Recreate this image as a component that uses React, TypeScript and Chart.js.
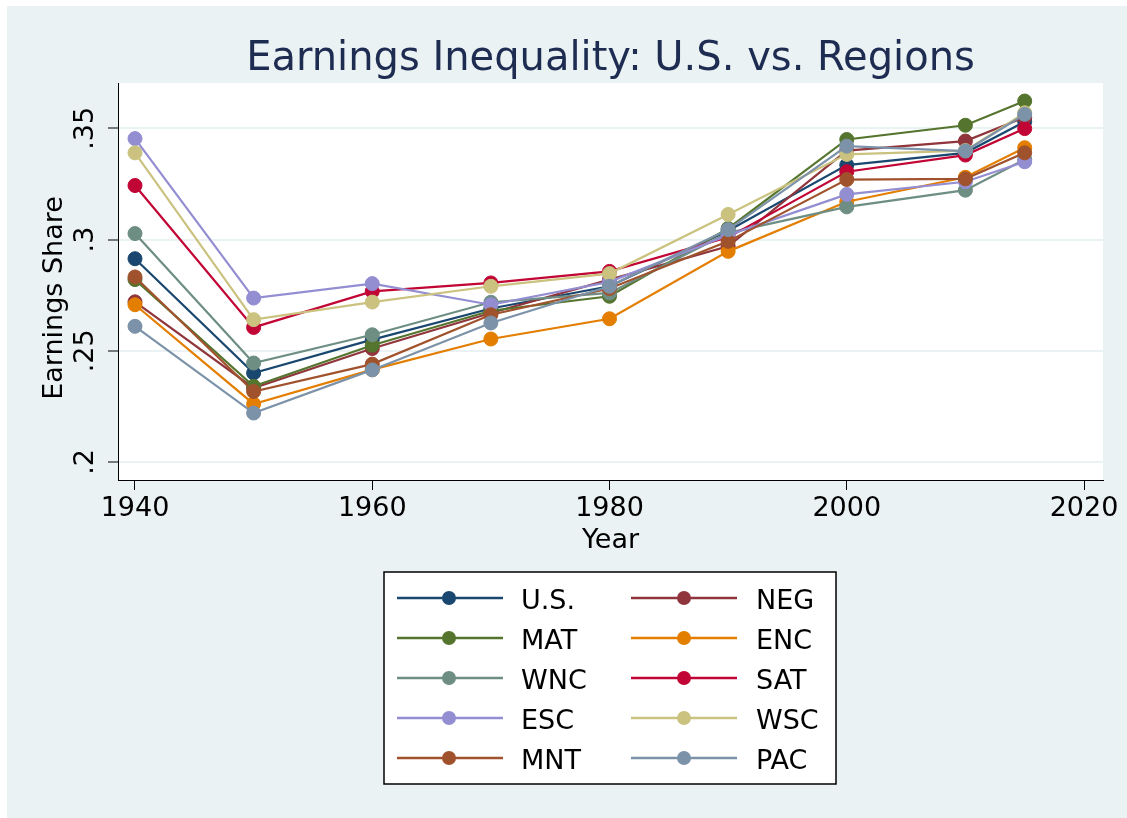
import React, { useEffect, useRef } from 'react';
import { Chart, registerables } from 'chart.js';

Chart.register(...registerables);

const FONT = '"DejaVu Sans", sans-serif';

const years = [1940, 1950, 1960, 1970, 1980, 1990, 2000, 2010, 2015];

const seriesNames = ['U.S.', 'NEG', 'MAT', 'ENC', 'WNC', 'SAT', 'ESC', 'WSC', 'MNT', 'PAC'];

const usValues = [0.2914, 0.240, 0.255, 0.269, 0.279, 0.304, 0.3335, 0.339, 0.353];
const negValues = [0.272, 0.2333, 0.251, 0.267, 0.282, 0.297, 0.340, 0.3443, 0.355];
const matValues = [0.282, 0.234, 0.2525, 0.268, 0.2745, 0.305, 0.345, 0.3514, 0.3623];
const encValues = [0.2707, 0.2261, 0.2415, 0.2553, 0.2644, 0.2947, 0.317, 0.328, 0.3413];
const wncValues = [0.3027, 0.2445, 0.2572, 0.2718, 0.276, 0.303, 0.3147, 0.3222, 0.336];
const satValues = [0.3243, 0.2605, 0.2767, 0.2805, 0.2857, 0.301, 0.3305, 0.338, 0.3499];
const escValues = [0.3454, 0.2737, 0.2802, 0.2707, 0.281, 0.302, 0.3203, 0.326, 0.335];
const wscValues = [0.339, 0.264, 0.2719, 0.279, 0.2847, 0.3113, 0.3383, 0.340, 0.357];
const mntValues = [0.2832, 0.2317, 0.244, 0.2662, 0.278, 0.2992, 0.327, 0.3273, 0.339];
const pacValues = [0.261, 0.222, 0.2414, 0.2625, 0.279, 0.3045, 0.342, 0.3398, 0.3563];

const seriesValues = [
  usValues, negValues, matValues, encValues, wncValues,
  satValues, escValues, wscValues, mntValues, pacValues,
];

const seriesColors = [
  '#1a476f', '#90353b', '#55752f', '#e37e00', '#6e8e84',
  '#c10534', '#938dd2', '#cac27e', '#a0522d', '#7b92a8',
];

const yTickValues = [0.2, 0.25, 0.3, 0.35];
const yTickLabels = ['.2', '.25', '.3', '.35'];
const xTickValues = [1940, 1960, 1980, 2000, 2020];

const titleText = 'Earnings Inequality: U.S. vs. Regions';
const yTitleText = 'Earnings Share';
const xTitleText = 'Year';

const BG = '#eaf2f3';

const decorPlugin = {
  id: 'decor',
  beforeDraw(chart: any) {
    const ctx = chart.ctx as CanvasRenderingContext2D;
    const a = chart.chartArea;
    ctx.save();
    ctx.fillStyle = '#ffffff';
    ctx.fillRect(a.left, a.top, a.right - a.left, a.bottom - a.top);
    ctx.restore();
  },
  afterDraw(chart: any) {
    const ctx = chart.ctx as CanvasRenderingContext2D;
    const yScale = chart.scales.y;
    const a = chart.chartArea;
    ctx.save();
    // title, centred on the plot region
    ctx.fillStyle = '#1e2c52';
    ctx.font = `40px ${FONT}`;
    ctx.textAlign = 'center';
    ctx.textBaseline = 'alphabetic';
    ctx.fillText(titleText, (a.left + a.right) / 2, 64);

    ctx.fillStyle = '#000';
    ctx.font = `27px ${FONT}`;
    yTickValues.forEach((v, i) => {
      const py = yScale.getPixelForValue(v);
      ctx.save();
      ctx.translate(86, py);
      ctx.rotate(-Math.PI / 2);
      ctx.fillText(yTickLabels[i], 0, 0);
      ctx.restore();
    });
    // y-axis title
    ctx.save();
    ctx.translate(55, 292);
    ctx.rotate(-Math.PI / 2);
    ctx.fillText(yTitleText, 0, 0);
    ctx.restore();

    // legend
    const bx = 377, by = 566, bw = 452, bh = 212;
    ctx.fillStyle = '#ffffff';
    ctx.fillRect(bx, by, bw, bh);
    ctx.strokeStyle = '#000';
    ctx.lineWidth = 1.5;
    ctx.strokeRect(bx, by, bw, bh);
    const rowY = [592, 632, 672, 712, 752];
    const cols = [
      { l0: 390, l1: 496, m: 442, t: 514 },
      { l0: 624, l1: 730, m: 677, t: 749 },
    ];
    ctx.textAlign = 'left';
    seriesNames.forEach((name, i) => {
      const r = Math.floor(i / 2);
      const c = cols[i % 2];
      const y = rowY[r];
      ctx.strokeStyle = seriesColors[i];
      ctx.lineWidth = 2.5;
      ctx.beginPath();
      ctx.moveTo(c.l0, y);
      ctx.lineTo(c.l1, y);
      ctx.stroke();
      ctx.fillStyle = seriesColors[i];
      ctx.beginPath();
      ctx.arc(c.m, y, 7, 0, Math.PI * 2);
      ctx.fill();
      ctx.fillStyle = '#000';
      ctx.fillText(name, c.t, y + 11);
    });
    ctx.restore();
  },
};

export default function App() {
  const canvasRef = useRef<HTMLCanvasElement | null>(null);

  useEffect(() => {
    const canvas = canvasRef.current;
    if (!canvas) return;
    const datasets = seriesNames.map((name, i) => ({
      label: name,
      data: years.map((yr, j) => ({ x: yr, y: seriesValues[i][j] })),
      borderColor: seriesColors[i],
      backgroundColor: seriesColors[i],
      pointBackgroundColor: seriesColors[i],
      pointBorderColor: seriesColors[i],
      pointBorderWidth: 1,
      pointRadius: 7,
      borderWidth: 2.2,
      tension: 0,
      fill: false,
      order: seriesNames.length - i,
    }));

    const chart = new Chart(canvas, {
      type: 'line',
      data: { datasets },
      plugins: [decorPlugin],
      options: {
        animation: false,
        responsive: false,
        events: [],
        layout: { padding: { left: 0, right: 24, top: 77, bottom: 258 } },
        plugins: {
          legend: { display: false },
          tooltip: { enabled: false },
          title: { display: false },
        },
        scales: {
          x: {
            type: 'linear',
            min: 1938.567,
            max: 2021.6,
            afterBuildTicks: (scale: any) => {
              scale.ticks = xTickValues.map((v) => ({ value: v }));
            },
            afterFit: (scale: any) => {
              scale.height = 80;
            },
            ticks: {
              color: '#000',
              font: { family: FONT, size: 27 },
              padding: 3,
              maxRotation: 0,
              minRotation: 0,
              callback: (v: any) => String(v),
            },
            grid: {
              drawOnChartArea: false,
              drawTicks: true,
              tickLength: 10,
              tickColor: '#000',
              tickWidth: 1,
            },
            border: { display: true, color: '#000', width: 1 },
            title: {
              display: true,
              text: xTitleText,
              color: '#000',
              font: { family: FONT, size: 27 },
              padding: { top: 0, bottom: 3 },
            },
          },
          y: {
            type: 'linear',
            min: 0.1919,
            max: 0.3704,
            afterBuildTicks: (scale: any) => {
              scale.ticks = yTickValues.map((v) => ({ value: v }));
            },
            afterFit: (scale: any) => {
              scale.width = 111;
            },
            ticks: { display: false },
            grid: {
              color: BG,
              lineWidth: 2,
              drawTicks: true,
              tickLength: 10,
              tickColor: '#000',
              tickWidth: 1,
            },
            border: { display: true, color: '#000', width: 1 },
          },
        },
      },
    });
    return () => chart.destroy();
  }, []);

  return (
    <div
      style={{
        position: 'absolute',
        left: 7,
        top: 6,
        width: 1120,
        height: 812,
        background: BG,
      }}
    >
      <canvas
        ref={canvasRef}
        width={1120}
        height={812}
        style={{ display: 'block', width: 1120, height: 812 }}
      />
    </div>
  );
}
